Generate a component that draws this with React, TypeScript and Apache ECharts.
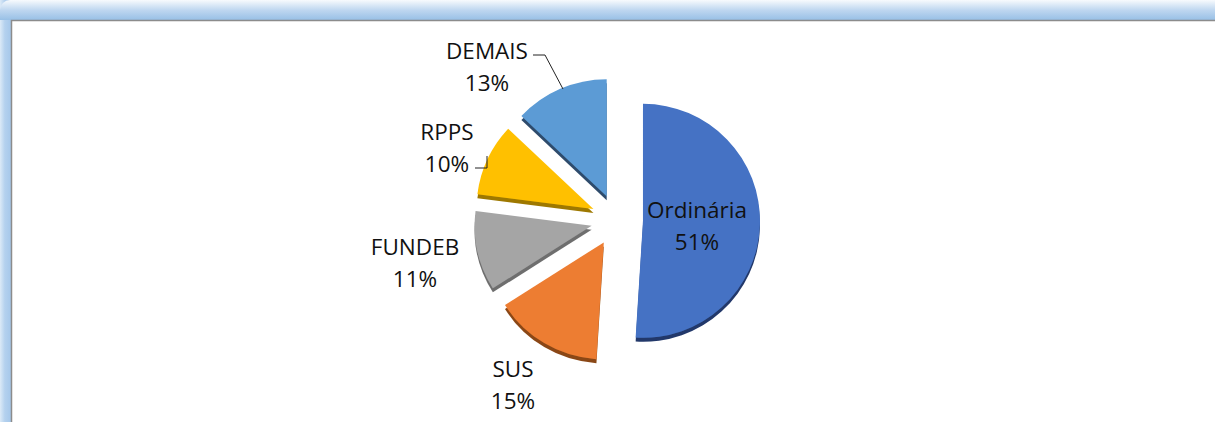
import React, { useEffect, useRef } from "react";
import * as echarts from "echarts";

// ---- data ----
const categories = ["Ordinária", "SUS", "FUNDEB", "RPPS", "DEMAIS"];
const shares = [51, 15, 11, 10, 13];

// ---- styles / layout ----
const sliceColors = ["#4472C4", "#ED7D31", "#A5A5A5", "#FFC000", "#5B9BD5"];
const sideColors = ["#22396A", "#8A4618", "#6E6E6E", "#9E7800", "#2D4C6C"];
const labelPlaces = [
  { x: 697, y: 225, align: "center" },
  { x: 513, y: 384, align: "center" },
  { x: 415, y: 262, align: "center" },
  { x: 447, y: 147, align: "center" },
  { x: 487, y: 66, align: "center" },
];
const leaderLines: number[][][] = [
  [[487, 156], [487, 168], [475, 168]],
  [[563, 89], [545, 55], [533, 55]],
];

export default function App() {
  const ref = useRef<HTMLDivElement>(null);
  useEffect(() => {
    if (!ref.current) return;
    const chart = echarts.init(ref.current, undefined, { renderer: "svg" });
    const data = categories.map((name, i) => ({
      name,
      value: shares[i],
      selected: true,
      itemStyle: {
        color: sliceColors[i],
        shadowColor: sideColors[i],
        shadowOffsetX: 0,
        shadowOffsetY: 4,
        shadowBlur: 0,
      },
    }));
    const total = shares.reduce((a, b) => a + b, 0);
    const labelTexts = categories.map((name, i) => ({
      type: "text",
      z: 10,
      x: labelPlaces[i].x,
      y: labelPlaces[i].y,
      style: {
        text: `${name}\n${Math.round((shares[i] / total) * 100)}%`,
        fontFamily: "Open Sans",
        fontSize: 22.5,
        lineHeight: 32,
        fill: "#111111",
        align: labelPlaces[i].align,
        verticalAlign: "middle",
      },
    }));
    const lines = leaderLines.map((pts) => ({
      type: "polyline",
      z: 10,
      shape: { points: pts },
      style: { stroke: "#222222", lineWidth: 1, fill: "none" },
    }));
    chart.setOption({
      animation: false,
      backgroundColor: "#ffffff",
      graphic: [
        {
          type: "rect",
          z: -10,
          shape: { x: 0, y: 0, width: 12, height: 422 },
          style: {
            fill: new echarts.graphic.LinearGradient(0, 0, 1, 0, [
              { offset: 0, color: "#DCEAF7" },
              { offset: 0.4, color: "#B4D1EE" },
              { offset: 1, color: "#A3C6EA" },
            ]),
          },
        },
        {
          type: "rect",
          z: -9,
          shape: { x: 0, y: 0, width: 1215, height: 20, r: [10, 0, 0, 0] },
          style: {
            fill: new echarts.graphic.LinearGradient(0, 0, 0, 1, [
              { offset: 0, color: "#F7FAFD" },
              { offset: 0.5, color: "#BFD7F0" },
              { offset: 1, color: "#98C0E6" },
            ]),
          },
        },
        {
          type: "polyline",
          z: -8,
          shape: { points: [[11.5, 422], [11.5, 20.5], [1215, 20.5]] },
          style: { stroke: "#8C8C8C", lineWidth: 1.5, fill: "none" },
        },
        ...lines,
        ...labelTexts,
      ],
      series: [
        {
          type: "pie",
          center: [617, 220],
          radius: 117,
          startAngle: 90,
          clockwise: true,
          selectedMode: "multiple",
          selectedOffset: 26,
          avoidLabelOverlap: false,
          data,
          select: { itemStyle: {} },
          emphasis: { disabled: true },
          label: { show: false },
          labelLine: { show: false },
        },
      ],
    });
    return () => chart.dispose();
  }, []);
  return (
    <div
      ref={ref}
      style={{ position: "fixed", left: 0, top: 0, width: 1215, height: 422 }}
    />
  );
}
